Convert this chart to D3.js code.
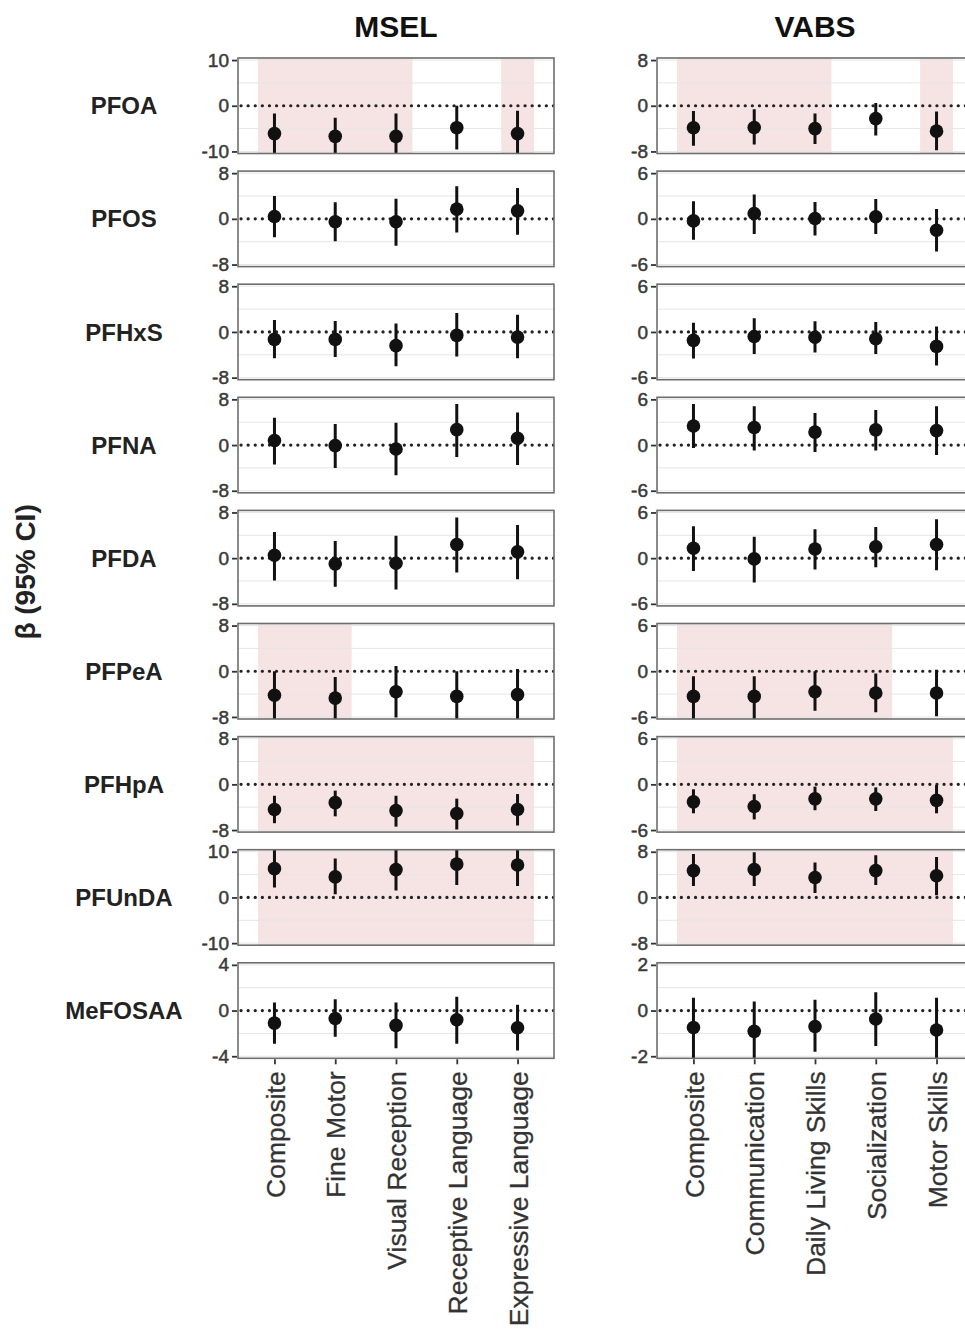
<!DOCTYPE html>
<html>
<head>
<meta charset="utf-8">
<script src="https://cdn.jsdelivr.net/npm/d3@7"></script>
<style>
  html, body { margin: 0; padding: 0; background: #fff; }
  svg { display: block; font-family: "Liberation Sans", Arial, sans-serif; }
</style>
</head>
<body>
<svg id="chart" width="965" height="1332"></svg>
<script>
// ---------- data ----------
const categoriesMSEL = ["Composite", "Fine Motor", "Visual Reception", "Receptive Language", "Expressive Language"];
const categoriesVABS = ["Composite", "Communication", "Daily Living Skills", "Socialization", "Motor Skills"];
const compounds = ["PFOA", "PFOS", "PFHxS", "PFNA", "PFDA", "PFPeA", "PFHpA", "PFUnDA", "MeFOSAA"];
const tickLimitsMSEL = [10, 8, 8, 8, 8, 8, 8, 10, 4];
const tickLimitsVABS = [8, 6, 6, 6, 6, 6, 6, 8, 2];

const estMSEL = [
  [-6.1, -6.7, -6.7, -4.8, -6.1],
  [0.4, -0.5, -0.5, 1.7, 1.4],
  [-1.3, -1.3, -2.4, -0.6, -0.9],
  [0.8, -0.1, -0.7, 2.7, 1.2],
  [0.5, -1.0, -0.9, 2.4, 1.1],
  [-4.2, -4.7, -3.6, -4.4, -4.1],
  [-4.4, -3.2, -4.6, -5.1, -4.4],
  [6.3, 4.5, 6.1, 7.3, 7.1],
  [-1.1, -0.7, -1.3, -0.8, -1.5]
];
const lowMSEL = [
  [-11, -11, -11, -9.6, -11],
  [-3.2, -3.9, -4.7, -2.4, -2.8],
  [-4.6, -4.4, -6.0, -4.3, -4.6],
  [-3.4, -4.0, -5.3, -2.1, -3.5],
  [-3.9, -5.0, -5.5, -2.5, -3.7],
  [-9, -9, -8.1, -9, -9],
  [-6.8, -5.6, -7.4, -7.9, -7.2],
  [2.2, 0.7, 1.5, 2.7, 2.5],
  [-2.9, -2.3, -3.3, -2.9, -3.5]
];
const highMSEL = [
  [-1.7, -2.6, -1.7, 0.0, -1.1],
  [4.0, 2.9, 3.5, 5.7, 5.4],
  [2.1, 1.9, 1.5, 3.3, 3.0],
  [4.8, 3.7, 3.9, 7.2, 5.7],
  [4.6, 3.0, 3.9, 7.1, 5.8],
  [0.0, -1.0, 0.9, 0.0, 0.4],
  [-2.0, -1.1, -2.0, -2.5, -1.7],
  [11, 8.5, 11, 11, 11],
  [0.7, 1.0, 0.7, 1.2, 0.5]
];

const estVABS = [
  [-3.85, -3.8, -4.0, -2.25, -4.45],
  [-0.27, 0.7, 0.05, 0.27, -1.5],
  [-1.1, -0.6, -0.7, -0.9, -1.9],
  [2.5, 2.3, 1.7, 2.0, 1.9],
  [1.3, -0.1, 1.2, 1.5, 1.8],
  [-3.3, -3.3, -2.7, -2.85, -2.85],
  [-2.3, -2.9, -1.9, -1.9, -2.1],
  [4.7, 4.9, 3.5, 4.7, 3.8],
  [-0.74, -0.91, -0.7, -0.37, -0.85]
];
const lowVABS = [
  [-7.0, -6.8, -6.7, -5.2, -7.8],
  [-2.75, -2.0, -2.2, -2.0, -4.3],
  [-3.5, -2.9, -2.7, -2.9, -4.4],
  [-0.4, -0.7, -0.9, -0.7, -1.3],
  [-1.7, -3.2, -1.5, -1.2, -1.6],
  [-7, -7, -5.2, -5.4, -5.9],
  [-3.8, -4.6, -3.4, -3.5, -3.8],
  [2.0, 2.0, 0.8, 2.2, 0.4],
  [-2.1, -2.1, -1.8, -1.55, -2.1]
];
const highVABS = [
  [-0.9, -0.6, -1.35, 0.5, -1.0],
  [2.3, 3.2, 2.2, 2.6, 1.3],
  [1.2, 1.8, 1.4, 1.3, 0.7],
  [5.4, 5.1, 4.2, 4.6, 5.1],
  [4.2, 2.8, 3.8, 4.1, 5.1],
  [-0.65, -0.65, 0.0, -0.3, 0.2],
  [-0.65, -1.3, -0.3, -0.4, -0.1],
  [7.6, 7.9, 6.1, 7.4, 7.1],
  [0.56, 0.4, 0.47, 0.8, 0.56]
];

// indices of significant (shaded) outcomes per compound
const shadedMSEL = [[0, 1, 2, 4], [], [], [], [], [0, 1], [0, 1, 2, 3, 4], [0, 1, 2, 3, 4], []];
const shadedVABS = [[0, 1, 2, 4], [], [], [], [], [0, 1, 2, 3], [0, 1, 2, 3, 4], [0, 1, 2, 3, 4], []];

// ---------- layout ----------
const svg = d3.select("#chart");
const rowTop0 = 58, rowPitch = 113.1, panelH = 95.5;
const panels = [
  { title: "MSEL", x0: 238, x1: 554, cats: categoriesMSEL, lims: tickLimitsMSEL, est: estMSEL, lo: lowMSEL, hi: highMSEL, shade: shadedMSEL },
  { title: "VABS", x0: 657, x1: 973, cats: categoriesVABS, lims: tickLimitsVABS, est: estVABS, lo: lowVABS, hi: highVABS, shade: shadedVABS }
];
const pink = "#f6e3e3";
const tickColor = "#333";

const defs = svg.append("defs");

panels.forEach((p, pi) => {
  const x = d3.scalePoint().domain(p.cats).range([p.x0, p.x1]).padding(0.6);
  const step = x.step();

  svg.append("text")
    .attr("x", (p.x0 + p.x1) / 2).attr("y", 37)
    .attr("text-anchor", "middle")
    .attr("font-size", 30).attr("font-weight", "bold").attr("fill", "#111")
    .text(p.title);

  compounds.forEach((comp, ri) => {
    const top = rowTop0 + ri * rowPitch;
    const bottom = top + panelH;
    const lim = p.lims[ri];
    const y = d3.scaleLinear().domain([-lim * 1.045, lim * 1.045]).range([bottom, top]);

    const clipId = `clip-${pi}-${ri}`;
    defs.append("clipPath").attr("id", clipId)
      .append("rect").attr("x", p.x0).attr("y", top).attr("width", p.x1 - p.x0).attr("height", panelH);

    const g = svg.append("g");
    const inner = g.append("g").attr("clip-path", `url(#${clipId})`);

    inner.append("rect").attr("x", p.x0).attr("y", top).attr("width", p.x1 - p.x0).attr("height", panelH).attr("fill", "#fff");

    const idx = p.shade[ri];
    const runs = [];
    idx.forEach(i => {
      if (runs.length && runs[runs.length - 1][1] === i - 1) runs[runs.length - 1][1] = i;
      else runs.push([i, i]);
    });
    runs.forEach(([a, b]) => {
      const xa = x(p.cats[a]) - 0.27 * step;
      const xb = x(p.cats[b]) + 0.27 * step;
      inner.append("rect").attr("x", xa).attr("y", top).attr("width", xb - xa).attr("height", panelH).attr("fill", pink);
    });

    [-lim, -lim / 2, lim / 2, lim].forEach(v => {
      inner.append("line").attr("x1", p.x0).attr("x2", p.x1).attr("y1", y(v)).attr("y2", y(v))
        .attr("stroke", "#e6e6e6").attr("stroke-width", 1);
    });

    inner.append("line").attr("x1", p.x0).attr("x2", p.x1).attr("y1", y(0)).attr("y2", y(0))
      .attr("stroke", "#222").attr("stroke-width", 3.2)
      .attr("stroke-dasharray", "0.1,7").attr("stroke-linecap", "round")
      .attr("stroke-dashoffset", -3);

    p.cats.forEach((c, ci) => {
      inner.append("line")
        .attr("x1", x(c)).attr("x2", x(c))
        .attr("y1", y(p.lo[ri][ci])).attr("y2", y(p.hi[ri][ci]))
        .attr("stroke", "#111").attr("stroke-width", 3);
    });
    p.cats.forEach((c, ci) => {
      inner.append("circle")
        .attr("cx", x(c)).attr("cy", y(p.est[ri][ci])).attr("r", 6.8)
        .attr("fill", "#111");
    });

    g.append("rect").attr("x", p.x0).attr("y", top).attr("width", p.x1 - p.x0).attr("height", panelH)
      .attr("fill", "none").attr("stroke", "#6e6e6e").attr("stroke-width", 1.6);

    const yAxis = d3.axisLeft(y).tickValues([-lim, 0, lim]).tickSize(5).tickPadding(3).tickFormat(d3.format("d"));
    const ga = svg.append("g").attr("transform", `translate(${p.x0 - 1},0)`).call(yAxis);
    ga.select(".domain").remove();
    ga.selectAll(".tick line").attr("stroke", tickColor).attr("stroke-width", 1.8);
    ga.selectAll(".tick text").attr("font-size", 19).attr("fill", "#3a3a3a")
      .attr("font-family", "'Liberation Sans', Arial, sans-serif")
      .attr("stroke", "#3a3a3a").attr("stroke-width", 0.5)
      .text(d => (d < 0 ? "-" + Math.abs(d) : d));

    if (pi === 0) {
      svg.append("text")
        .attr("x", 124).attr("y", y(0))
        .attr("dy", "0.36em")
        .attr("text-anchor", "middle")
        .attr("font-size", 24).attr("font-weight", "bold").attr("fill", "#222")
        .text(comp);
    }

    if (ri === compounds.length - 1) {
      const xAxis = d3.axisBottom(x).tickSize(5).tickPadding(8);
      const gx = svg.append("g").attr("transform", `translate(0,${bottom + 1})`).call(xAxis);
      gx.select(".domain").remove();
      gx.selectAll(".tick line").attr("stroke", tickColor).attr("stroke-width", 1.8);
      gx.selectAll(".tick text")
        .attr("font-size", 26.5).attr("fill", "#333")
        .attr("font-family", "'Liberation Sans', Arial, sans-serif")
        .attr("stroke", "#333").attr("stroke-width", 0.3)
        .attr("text-anchor", "end")
        .attr("transform", "rotate(-90)")
        .attr("x", -12).attr("y", 0).attr("dy", "0.36em");
    }
  });
});

svg.append("text")
  .attr("transform", `translate(35,${rowTop0 + 4.5 * rowPitch + 5}) rotate(-90)`)
  .attr("text-anchor", "middle")
  .attr("font-size", 28).attr("font-weight", "bold").attr("fill", "#222")
  .text("β (95% CI)");
</script>
</body>
</html>
